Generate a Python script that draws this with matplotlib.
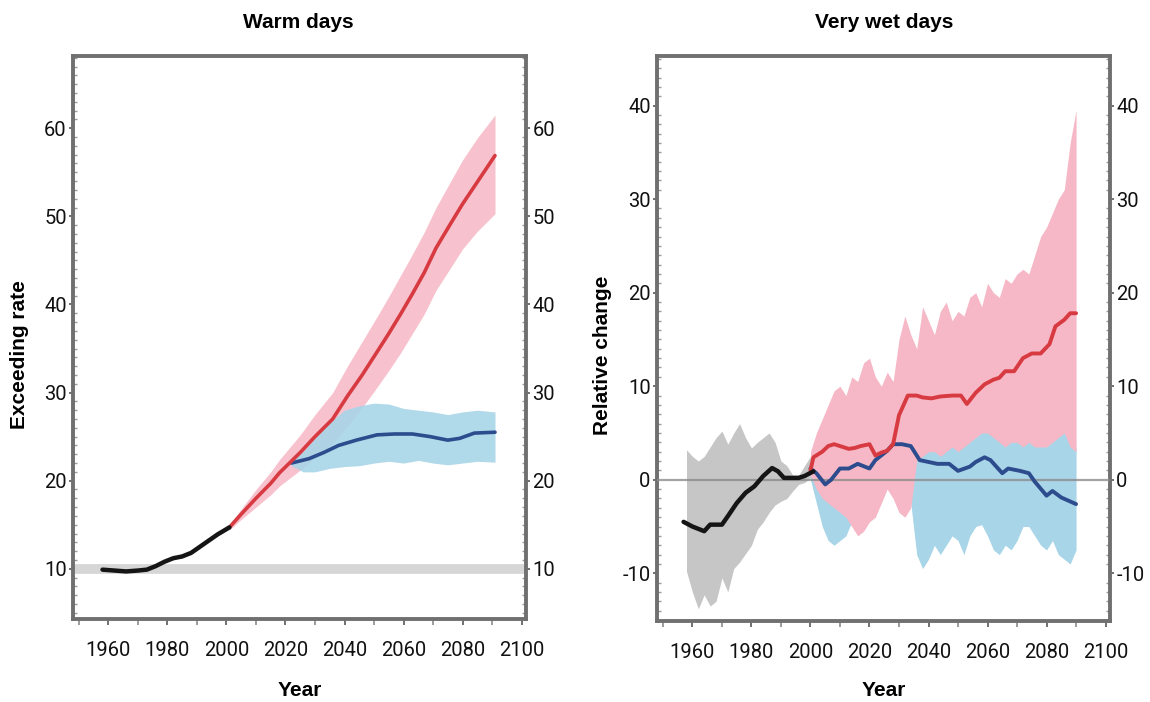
import matplotlib
matplotlib.use("Agg")
import matplotlib.pyplot as plt
from matplotlib.ticker import MultipleLocator

plt.rcParams['font.family'] = ['Roboto', 'DejaVu Sans']
plt.rcParams['axes.unicode_minus'] = False

# ---------------- Left panel: Warm days ----------------
warm_hist_years = [1958, 1962, 1966, 1970, 1973, 1976, 1979, 1982, 1985, 1988, 1991, 1994, 1997, 2001]
warm_hist_vals = [9.9, 9.8, 9.7, 9.8, 9.9, 10.3, 10.8, 11.2, 11.4, 11.8, 12.5, 13.2, 13.9, 14.7]

warm_red_years = [2001, 2005, 2010, 2015, 2018, 2025, 2030, 2036, 2041, 2046, 2051, 2055,
                  2059, 2063, 2067, 2071, 2076, 2080, 2085, 2091]
warm_red_vals = [14.7, 16.2, 18.0, 19.7, 20.9, 23.2, 25.0, 27.0, 29.6, 32.0, 34.6, 36.7,
                 38.9, 41.2, 43.6, 46.4, 49.2, 51.4, 53.9, 56.9]
warm_red_upper = [15.0, 16.8, 19.0, 21.0, 22.4, 25.2, 27.5, 30.0, 33.0, 35.8, 38.6, 40.9,
                  43.3, 45.7, 48.2, 51.0, 54.0, 56.4, 58.9, 61.5]
warm_red_lower = [14.4, 15.6, 17.0, 18.4, 19.4, 21.2, 22.6, 24.2, 26.2, 28.3, 30.6, 32.5,
                  34.5, 36.7, 38.9, 41.6, 44.2, 46.3, 48.3, 50.3]

warm_blue_years = [2022, 2028, 2033, 2038, 2044, 2051, 2057, 2063, 2069, 2075, 2079, 2084, 2091]
warm_blue_vals = [22.0, 22.5, 23.2, 24.0, 24.6, 25.2, 25.3, 25.3, 25.0, 24.6, 24.8, 25.4, 25.5]

warm_bband_years = [2022, 2026, 2030, 2035, 2040, 2045, 2050, 2055, 2060, 2065, 2070, 2075, 2080, 2085, 2091]
warm_bband_upper = [22.3, 23.3, 24.8, 26.6, 28.0, 28.5, 28.8, 28.7, 28.2, 28.0, 27.8, 27.5, 27.8, 28.0, 27.8]
warm_bband_lower = [21.7, 21.0, 21.0, 21.4, 21.6, 21.7, 22.0, 22.2, 22.0, 22.3, 22.0, 21.8, 22.0, 22.2, 22.1]

warm_ref = 10
warm_yticks = [10, 20, 30, 40, 50, 60]

# ---------------- Right panel: Very wet days ----------------
wet_hist_years = [1957, 1960, 1964, 1966, 1970, 1972, 1975, 1978, 1981, 1984, 1987, 1989,
                  1991, 1993, 1996, 1998, 2001]
wet_hist_vals = [-4.5, -5.0, -5.5, -4.8, -4.8, -3.9, -2.5, -1.4, -0.7, 0.4, 1.25, 0.9,
                 0.2, 0.2, 0.2, 0.4, 0.9]

wet_gband_years = [1958, 1960, 1962, 1964, 1966, 1968, 1970, 1972, 1974, 1976, 1978, 1980,
                   1982, 1984, 1986, 1988, 1990, 1992, 1994, 1996, 1998, 2000]
wet_gband_upper = [3.2, 2.5, 2.0, 2.5, 3.5, 4.5, 5.2, 3.8, 5.0, 6.0, 4.5, 3.4,
                   4.0, 4.5, 5.0, 4.0, 2.0, 1.5, 0.5, 0.5, 1.5, 2.5]
wet_gband_lower = [-9.8, -12.0, -13.8, -12.3, -13.5, -13.0, -10.5, -12.0, -9.5, -8.8, -7.9, -7.0,
                   -5.3, -4.5, -3.5, -2.7, -2.3, -2.0, -1.2, -0.5, -0.3, 0.2]

wet_red_years = [2000, 2001, 2004, 2006, 2008, 2011, 2013, 2015, 2017, 2020, 2022, 2024, 2026,
                 2028, 2030, 2033, 2036, 2038, 2041, 2044, 2048, 2051, 2053, 2056, 2059,
                 2062, 2064, 2066, 2069, 2072, 2075, 2078, 2081, 2083, 2086, 2088, 2090]
wet_red_vals = [1.0, 2.4, 3.0, 3.6, 3.8, 3.5, 3.3, 3.4, 3.6, 3.8, 2.6, 2.9, 3.1,
                3.8, 6.9, 9.0, 9.0, 8.8, 8.7, 8.9, 9.0, 9.0, 8.1, 9.3, 10.2,
                10.7, 10.9, 11.6, 11.6, 13.0, 13.5, 13.5, 14.5, 16.4, 17.1, 17.8, 17.8]

wet_blue_years = [2000, 2002, 2005, 2007, 2010, 2013, 2016, 2020, 2022, 2026, 2028, 2031,
                  2034, 2037, 2040, 2043, 2047, 2050, 2054, 2056, 2059, 2061, 2065, 2067,
                  2071, 2074, 2076, 2080, 2082, 2085, 2090]
wet_blue_vals = [1.2, 0.7, -0.5, 0.0, 1.2, 1.2, 1.7, 1.2, 2.1, 3.1, 3.8, 3.8,
                 3.6, 2.1, 1.9, 1.7, 1.7, 0.95, 1.4, 1.9, 2.4, 2.1, 0.7, 1.2,
                 0.95, 0.7, -0.2, -1.7, -1.2, -1.9, -2.6]

wet_band_years = [2000, 2002, 2004, 2006, 2008, 2010, 2012, 2014, 2016, 2018, 2020, 2022,
                  2024, 2026, 2028, 2030, 2032, 2034, 2036, 2038, 2040, 2042, 2044, 2046,
                  2048, 2050, 2052, 2054, 2056, 2058, 2060, 2062, 2064, 2066, 2068, 2070,
                  2072, 2074, 2076, 2078, 2080, 2082, 2084, 2086, 2088, 2090]
wet_pink_upper = [3.0, 5.0, 6.5, 8.0, 9.5, 10.0, 9.0, 11.0, 10.5, 12.5, 13.0, 11.0,
                  10.0, 11.5, 10.5, 15.0, 17.5, 15.5, 14.0, 18.5, 17.0, 15.5, 18.0, 19.0,
                  17.0, 18.0, 17.5, 19.5, 20.0, 18.5, 21.0, 20.0, 19.5, 21.5, 21.0, 22.0,
                  22.5, 22.0, 24.0, 26.0, 27.0, 28.5, 30.0, 31.0, 36.0, 39.5]
wet_pink_lower = [0.5, -1.0, -2.0, -2.5, -3.0, -3.5, -4.0, -5.0, -6.0, -5.5, -4.5, -4.0,
                  -2.5, -1.0, -2.0, -3.5, -4.0, -3.0, 2.0, 2.5, 3.0, 3.0, 2.5, 3.0,
                  3.5, 3.0, 3.5, 4.0, 4.5, 5.0, 5.0, 4.5, 4.0, 3.5, 4.0, 4.0,
                  3.5, 4.0, 3.5, 3.5, 3.5, 4.0, 4.5, 5.0, 3.5, 3.0]
wet_blue_upper = [1.5, 1.0, 0.5, 0.5, 1.0, 1.5, 1.5, 1.5, 1.5, 1.5, 1.5, 2.0,
                  2.5, 2.5, 2.5, 2.5, 2.5, 2.5, 2.5, 3.0, 3.5, 3.5, 3.0, 3.5,
                  4.0, 3.5, 4.0, 4.5, 5.0, 5.5, 5.5, 5.0, 4.5, 4.0, 4.5, 4.5,
                  4.0, 4.5, 4.0, 4.0, 4.0, 4.5, 5.0, 5.5, 4.0, 3.5]
wet_blue_lower = [0.0, -2.5, -5.0, -6.5, -7.0, -6.5, -6.0, -4.5, -5.5, -5.0, -4.0, -3.5,
                  -2.0, -0.5, -1.5, -3.0, -3.5, -2.5, -8.0, -9.5, -8.5, -7.0, -8.0, -7.0,
                  -6.0, -6.5, -8.0, -6.0, -5.0, -4.8, -6.0, -7.5, -8.0, -7.0, -7.5, -6.5,
                  -5.0, -5.0, -6.0, -7.0, -7.5, -6.5, -8.0, -8.5, -9.0, -7.5]

wet_ref = 0
wet_yticks = [-10, 0, 10, 20, 30, 40]

xticks = [1960, 1980, 2000, 2020, 2040, 2060, 2080, 2100]

# ---------------- Styling ----------------
C_RED = '#d73a40'
C_PINK = '#f6b8c6'
C_PINK_L = '#f7c2ce'
C_BLUE = '#2c4c8e'
C_LBLUE = '#a8d5e8'
C_GREY = '#c6c6c6'
C_BLACK = '#151515'
SPINE = '#707070'
LABEL_FONT = ['Liberation Sans', 'DejaVu Sans']

fig = plt.figure(figsize=(11.5, 7.02), dpi=100)
W, H = 1150, 702
ax1 = fig.add_axes([73 / W, 1 - 619 / H, 453 / W, 563 / H])
ax2 = fig.add_axes([657 / W, 1 - 621 / H, 453 / W, 565 / H])


def style(ax, ylim, yticks):
    ax.set_xlim(1948, 2101.5)
    ax.set_ylim(*ylim)
    ax.set_xticks(xticks)
    ax.xaxis.set_minor_locator(MultipleLocator(10))
    ax.set_yticks(yticks)
    ax.yaxis.set_minor_locator(MultipleLocator(1))
    for s in ax.spines.values():
        s.set_color(SPINE)
        s.set_linewidth(2.8)
    ax.tick_params(axis='both', which='major', labelsize=14.5, color=SPINE,
                   length=4, width=1.4, direction='out')
    ax.tick_params(axis='both', which='major', labelcolor='#111111')
    ax.tick_params(axis='y', which='both', left=True, right=True,
                   labelleft=True, labelright=True)
    ax.tick_params(axis='y', which='major', pad=1.5, length=3)
    ax.tick_params(axis='y', which='minor', length=3, width=1.0, color='#9a9a9a',
                   direction='in')
    ax.tick_params(axis='x', which='minor', length=4, width=1.2, color='#8a8a8a',
                   direction='out')
    ax.tick_params(axis='x', which='major', pad=12)
    for lab in ax.get_xticklabels() + ax.get_yticklabels():
        lab.set_fontweight('normal')


# Left panel
style(ax1, (4.3, 68.2), warm_yticks)
ax1.axhline(warm_ref, color='#d6d6d6', lw=7, zorder=1)
ax1.fill_between(warm_red_years, warm_red_lower, warm_red_upper, color=C_PINK_L,
                 lw=0, zorder=2)
ax1.fill_between(warm_bband_years, warm_bband_lower, warm_bband_upper, color=C_LBLUE,
                 lw=0, zorder=3, alpha=0.9)
ax1.plot(warm_blue_years, warm_blue_vals, color=C_BLUE, lw=2.6, zorder=5,
         solid_capstyle='round')
ax1.plot(warm_red_years, warm_red_vals, color=C_RED, lw=2.6, zorder=6,
         solid_capstyle='round')
ax1.plot(warm_hist_years, warm_hist_vals, color=C_BLACK, lw=3.2, zorder=7,
         solid_capstyle='round')

# Right panel
style(ax2, (-15.1, 45.3), wet_yticks)
ax2.fill_between(wet_gband_years, wet_gband_lower, wet_gband_upper, color=C_GREY,
                 lw=0, zorder=2)
ax2.fill_between(wet_band_years, wet_blue_lower, wet_blue_upper, color=C_LBLUE,
                 lw=0, zorder=2)
ax2.fill_between(wet_band_years, wet_pink_lower, wet_pink_upper, color=C_PINK,
                 lw=0, zorder=3)
ax2.axhline(wet_ref, color='#8c8c8c', lw=1.6, zorder=4, alpha=0.8)
ax2.plot(wet_blue_years, wet_blue_vals, color=C_BLUE, lw=2.8, zorder=5,
         solid_capstyle='round')
ax2.plot(wet_red_years, wet_red_vals, color=C_RED, lw=2.8, zorder=6,
         solid_capstyle='round')
ax2.plot(wet_hist_years, wet_hist_vals, color=C_BLACK, lw=3.2, zorder=7,
         solid_capstyle='round')

# Text
kw = dict(ha='center', va='center', fontsize=15, fontweight='bold', family=LABEL_FONT)
fig.text(298 / W, 1 - 23 / H, 'Warm days', **kw)
fig.text(884 / W, 1 - 23 / H, 'Very wet days', **kw)
fig.text(20 / W, 1 - 355 / H, 'Exceeding rate', rotation=90, **kw)
fig.text(603 / W, 1 - 355 / H, 'Relative change', rotation=90, **kw)
fig.text(300 / W, 1 - 690 / H, 'Year', **kw)
fig.text(884 / W, 1 - 690 / H, 'Year', **kw)

fig.savefig('out.png', dpi=100, facecolor='white')
